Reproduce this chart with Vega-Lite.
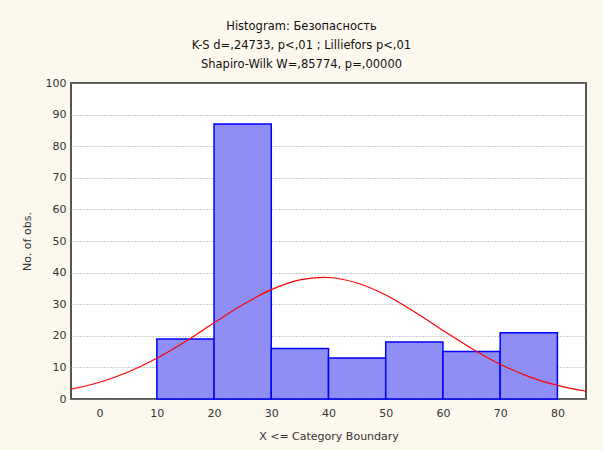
{
  "$schema": "https://vega.github.io/schema/vega-lite/v6.json",
  "width": 515,
  "height": 316,
  "autosize": {"type": "none"},
  "padding": {"left": 71, "top": 83, "right": 17, "bottom": 51},
  "background": "#fdf8ee",
  "title": {
    "text": ["Histogram: Безопасность", "K-S d=,24733, p<,01 ; Lilliefors p<,01", "Shapiro-Wilk W=,85774, p=,00000"],
    "anchor": "middle",
    "dx": -27,
    "offset": 7,
    "font": "DejaVu Sans",
    "fontSize": 11.5,
    "fontWeight": "normal",
    "color": "#111111",
    "lineHeight": 19
  },
  "datasets": {
    "bins": [
      {"start": 10, "end": 20, "count": 19},
      {"start": 20, "end": 30, "count": 87},
      {"start": 30, "end": 40, "count": 16},
      {"start": 40, "end": 50, "count": 13},
      {"start": 50, "end": 60, "count": 18},
      {"start": 60, "end": 70, "count": 15},
      {"start": 70, "end": 80, "count": 21}
    ],
    "curve": [
      {"x": -5, "y": 3.1},
      {"x": 0, "y": 5.3},
      {"x": 5, "y": 8.55},
      {"x": 10, "y": 12.9},
      {"x": 15, "y": 18.2},
      {"x": 20, "y": 24.1},
      {"x": 25, "y": 29.8},
      {"x": 30, "y": 34.6},
      {"x": 35, "y": 37.7},
      {"x": 39, "y": 38.5},
      {"x": 40, "y": 38.45},
      {"x": 45, "y": 36.7},
      {"x": 50, "y": 32.9},
      {"x": 55, "y": 27.6},
      {"x": 60, "y": 21.7},
      {"x": 65, "y": 16.0},
      {"x": 70, "y": 11.0},
      {"x": 75, "y": 7.1},
      {"x": 80, "y": 4.3},
      {"x": 85, "y": 2.45}
    ]
  },
  "layer": [
    {
      "data": {"name": "bins"},
      "mark": {"type": "rect", "fill": "#8e8ef5", "stroke": "#0000ff", "strokeWidth": 1.5},
      "encoding": {
        "x": {
          "field": "start", "type": "quantitative",
          "scale": {"domain": [-5, 85], "nice": false, "zero": false},
          "axis": {
            "title": "X <= Category Boundary",
            "values": [0, 10, 20, 30, 40, 50, 60, 70, 80],
            "grid": false, "domain": false, "ticks": false,
            "labelPadding": 8, "titlePadding": 12
          }
        },
        "x2": {"field": "end"},
        "y": {
          "field": "count", "type": "quantitative",
          "scale": {"domain": [0, 100], "nice": false},
          "axis": {
            "title": "No. of obs.",
            "values": [0, 10, 20, 30, 40, 50, 60, 70, 80, 90, 100],
            "grid": true, "gridColor": "#9a9a9a", "gridDash": [1, 2], "gridWidth": 1,
            "domain": false, "ticks": false, "labelOverlap": false,
            "labelPadding": 5, "titlePadding": 13
          }
        },
        "y2": {"datum": 0}
      }
    },
    {
      "data": {"name": "curve"},
      "mark": {"type": "line", "color": "#ff0000", "strokeWidth": 1.2, "interpolate": "monotone", "clip": true},
      "encoding": {
        "x": {
          "field": "x", "type": "quantitative",
          "axis": {
            "title": "X <= Category Boundary",
            "values": [0, 10, 20, 30, 40, 50, 60, 70, 80],
            "grid": false, "domain": false, "ticks": false,
            "labelPadding": 8, "titlePadding": 12
          }
        },
        "y": {
          "field": "y", "type": "quantitative",
          "axis": {
            "title": "No. of obs.",
            "values": [0, 10, 20, 30, 40, 50, 60, 70, 80, 90, 100],
            "grid": true, "gridColor": "#9a9a9a", "gridDash": [1, 2], "gridWidth": 1,
            "domain": false, "ticks": false, "labelOverlap": false,
            "labelPadding": 5, "titlePadding": 13
          }
        }
      }
    }
  ],
  "config": {
    "view": {"fill": "#ffffff", "stroke": "#555555", "strokeWidth": 2},
    "axis": {
      "labelFont": "DejaVu Sans", "labelFontSize": 11, "labelColor": "#333333",
      "titleFont": "DejaVu Sans", "titleFontSize": 11, "titleFontWeight": "normal", "titleColor": "#333333"
    }
  }
}
